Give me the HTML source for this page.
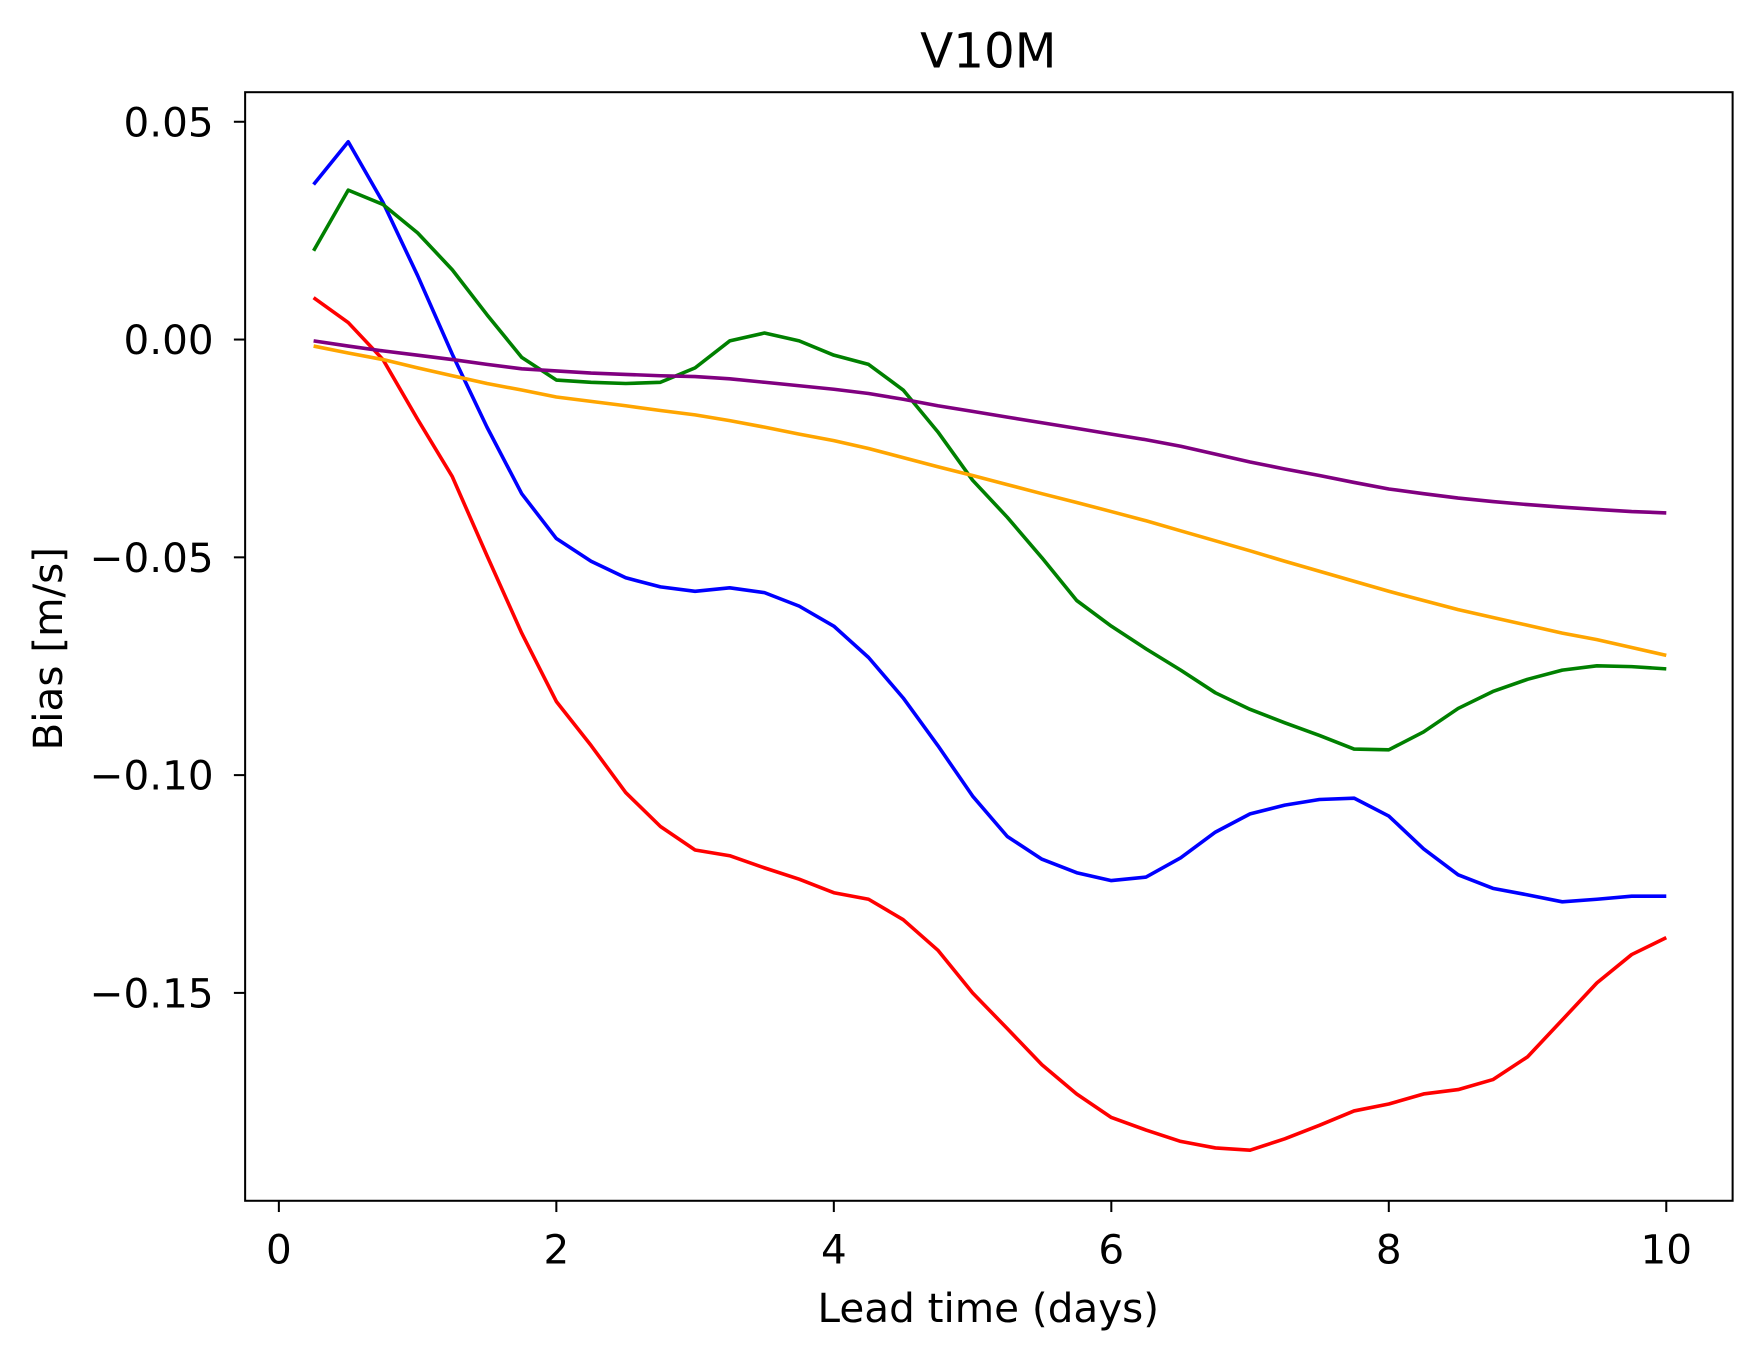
<!DOCTYPE html>
<html><head><meta charset="utf-8"><style>
html,body{margin:0;padding:0;background:#fff}
svg{display:block}
text{font-family:"DejaVu Sans","Liberation Sans",sans-serif;fill:#000}
</style></head><body>
<svg id="chart" width="1763" height="1361" viewBox="0 0 1568 1210.5" xmlns="http://www.w3.org/2000/svg">
<rect width="1568" height="1210.5" fill="#fff"/>
<g id="plot"></g>
<rect x="218" y="82" width="1323" height="986" fill="none" stroke="#000" stroke-width="1.8"/>
<g id="xt"></g>
<g id="yt"></g>
<text x="879" y="60" font-size="43" text-anchor="middle">V10M</text>
<text x="879" y="1176" font-size="36" text-anchor="middle">Lead time (days)</text>
<text transform="translate(55,577) rotate(-90)" font-size="36" text-anchor="middle">Bias [m/s]</text>
</svg>
<script>
const leadDays = Array.from({length:40},(_, i)=>(i+1)*0.25);
const xTicks = [0,2,4,6,8,10];
const yTicks = [0.05,0,-0.05,-0.10,-0.15];
const yTickLabels = ["0.05","0.00","\u22120.05","\u22120.10","\u22120.15"];
const blue = [0.0356,0.0454,0.0315,0.0147,-0.0034,-0.0201,-0.0354,-0.0457,-0.0509,-0.0547,-0.0568,-0.0578,-0.0570,-0.0581,-0.0612,-0.0658,-0.0730,-0.0823,-0.0932,-0.1048,-0.1141,-0.1193,-0.1224,-0.1242,-0.1234,-0.1190,-0.1131,-0.1089,-0.1069,-0.1056,-0.1053,-0.1094,-0.1169,-0.1229,-0.1260,-0.1275,-0.1291,-0.1285,-0.1278,-0.1278];
const green = [0.0204,0.0343,0.0310,0.0245,0.0160,0.0057,-0.0041,-0.0093,-0.0098,-0.0101,-0.0098,-0.0065,-0.0003,0.0015,-0.0003,-0.0036,-0.0057,-0.0116,-0.0212,-0.0323,-0.0408,-0.0501,-0.0599,-0.0658,-0.0710,-0.0759,-0.0811,-0.0849,-0.0880,-0.0909,-0.0940,-0.0942,-0.0901,-0.0847,-0.0808,-0.0780,-0.0759,-0.0749,-0.0751,-0.0756];
const red = [0.0096,0.0039,-0.0046,-0.0183,-0.0315,-0.0496,-0.0674,-0.0831,-0.0932,-0.1040,-0.1118,-0.1172,-0.1185,-0.1213,-0.1239,-0.1270,-0.1285,-0.1332,-0.1402,-0.1500,-0.1582,-0.1665,-0.1732,-0.1786,-0.1815,-0.1841,-0.1856,-0.1861,-0.1835,-0.1804,-0.1771,-0.1755,-0.1732,-0.1722,-0.1699,-0.1647,-0.1562,-0.1477,-0.1412,-0.1373];
const purple = [-0.0003,-0.0015,-0.0026,-0.0036,-0.0046,-0.0057,-0.0067,-0.0072,-0.0077,-0.0080,-0.0083,-0.0085,-0.0090,-0.0098,-0.0106,-0.0114,-0.0124,-0.0137,-0.0152,-0.0165,-0.0178,-0.0191,-0.0204,-0.0217,-0.0230,-0.0245,-0.0263,-0.0281,-0.0297,-0.0312,-0.0328,-0.0343,-0.0354,-0.0364,-0.0372,-0.0379,-0.0385,-0.0390,-0.0395,-0.0398];
const orange = [-0.0015,-0.0031,-0.0046,-0.0065,-0.0083,-0.0101,-0.0116,-0.0132,-0.0142,-0.0152,-0.0163,-0.0173,-0.0186,-0.0201,-0.0217,-0.0232,-0.0250,-0.0271,-0.0292,-0.0312,-0.0333,-0.0354,-0.0374,-0.0395,-0.0416,-0.0439,-0.0462,-0.0485,-0.0509,-0.0532,-0.0555,-0.0578,-0.0599,-0.0620,-0.0638,-0.0656,-0.0674,-0.0689,-0.0707,-0.0725];

const NS="http://www.w3.org/2000/svg";
const X = d => 248 + d*123.4;
const Y = v => 302 - v*3874;
const plot=document.getElementById('plot');
const series=[["blue",blue,"#0000ff"],["green",green,"#008000"],["red",red,"#ff0000"],["purple",purple,"#800080"],["orange",orange,"#ffa500"]];
series.forEach(([n,vals,c])=>{
  const p=document.createElementNS(NS,'polyline');
  p.setAttribute('points',vals.map((v,i)=>X(leadDays[i]).toFixed(1)+','+Y(v).toFixed(1)).join(' '));
  p.setAttribute('fill','none');p.setAttribute('stroke',c);p.setAttribute('stroke-width','3.2');
  p.setAttribute('stroke-linejoin','round');
  
  
  plot.appendChild(p);
});
const xt=document.getElementById('xt');
xTicks.forEach(t=>{
  const l=document.createElementNS(NS,'line');
  l.setAttribute('x1',X(t));l.setAttribute('x2',X(t));l.setAttribute('y1',1068);l.setAttribute('y2',1078);
  l.setAttribute('stroke','#000');l.setAttribute('stroke-width','1.8');
  
  
  xt.appendChild(l);
  const tx=document.createElementNS(NS,'text');
  tx.setAttribute('x',X(t));tx.setAttribute('y',1124);tx.setAttribute('font-size','36');tx.setAttribute('text-anchor','middle');
  tx.textContent=String(t);
  
  
  xt.appendChild(tx);
});
const yt=document.getElementById('yt');
yTicks.forEach((t,i)=>{
  const l=document.createElementNS(NS,'line');
  l.setAttribute('x1',208);l.setAttribute('x2',218);l.setAttribute('y1',Y(t));l.setAttribute('y2',Y(t));
  l.setAttribute('stroke','#000');l.setAttribute('stroke-width','1.8');
  
  
  yt.appendChild(l);
  const tx=document.createElementNS(NS,'text');
  tx.setAttribute('x',190);tx.setAttribute('y',Y(t)+13);tx.setAttribute('font-size','36');tx.setAttribute('text-anchor','end');
  tx.textContent=yTickLabels[i];
  
  
  yt.appendChild(tx);
});
</script>
</body></html>
